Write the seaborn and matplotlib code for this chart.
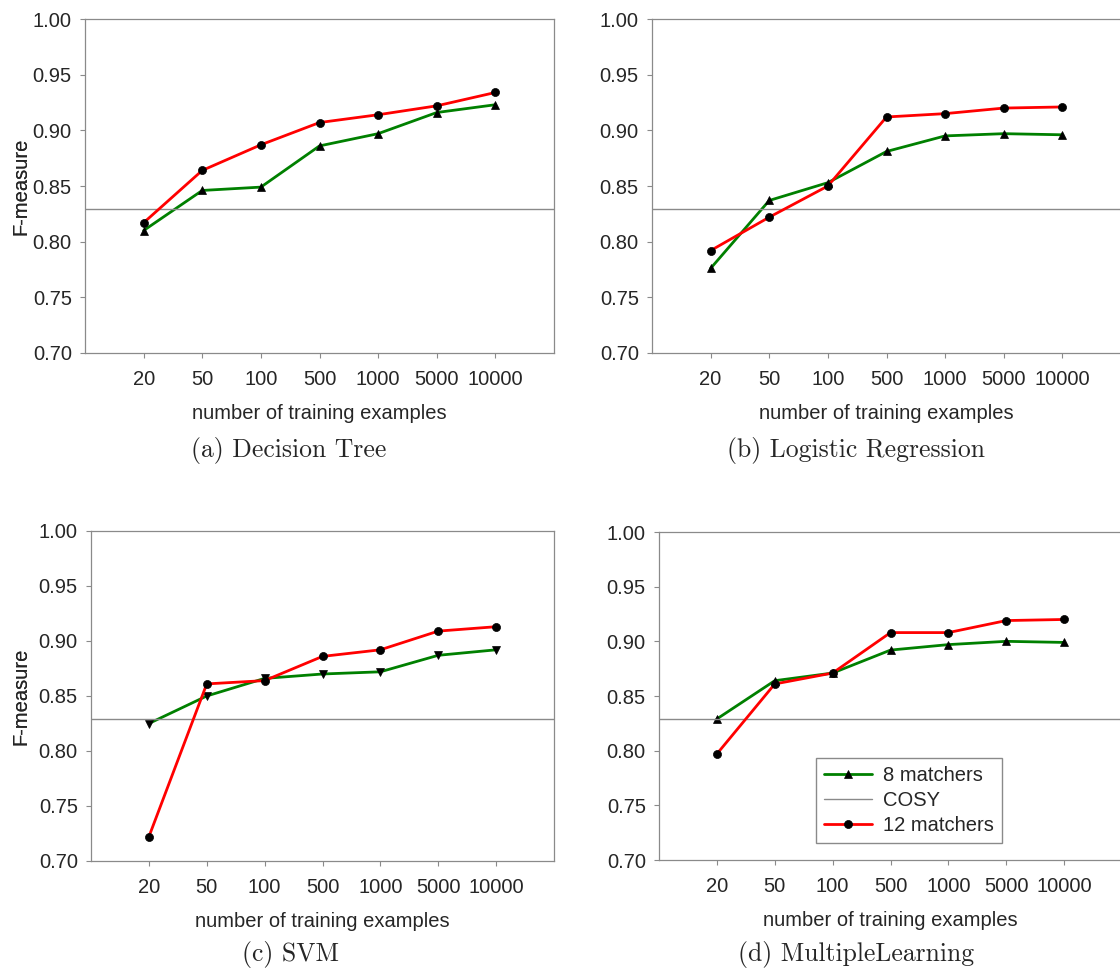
import matplotlib
matplotlib.use("Agg")
import matplotlib.pyplot as plt
from matplotlib.ticker import FormatStrFormatter
import seaborn as sns

# Training-set sizes (categorical x axis)
sizes = ["20", "50", "100", "500", "1000", "5000", "10000"]

# F-measure of the COSY baseline
cosy = 0.829

# F-measure per classifier, 8 vs 12 matchers
dt_8 = [0.810, 0.846, 0.849, 0.886, 0.897, 0.916, 0.923]
dt_12 = [0.817, 0.864, 0.887, 0.907, 0.914, 0.922, 0.934]

lr_8 = [0.776, 0.837, 0.853, 0.881, 0.895, 0.897, 0.896]
lr_12 = [0.792, 0.822, 0.850, 0.912, 0.915, 0.920, 0.921]

svm_8 = [0.825, 0.850, 0.866, 0.870, 0.872, 0.887, 0.892]
svm_12 = [0.722, 0.861, 0.864, 0.886, 0.892, 0.909, 0.913]

ml_8 = [0.829, 0.864, 0.871, 0.892, 0.897, 0.900, 0.899]
ml_12 = [0.797, 0.861, 0.871, 0.908, 0.908, 0.919, 0.920]

captions = ["(a) Decision Tree", "(b) Logistic Regression", "(c) SVM", "(d) MultipleLearning"]

sns.set_style("white")
plt.rcParams["font.family"] = ["Liberation Sans", "DejaVu Sans"]

W, H = 1120, 974
fig = plt.figure(figsize=(W / 100, H / 100), dpi=100)

GREEN = "#008000"
RED = "#ff0000"
GRAY = "#8a8a8a"
FS = 14.5

# axes boxes in pixels: left, right, top, bottom
boxes = [
    (85, 554, 19, 353),
    (652, 1121, 19, 353),
    (91, 554, 531, 861),
    (659, 1122, 532, 860),
]
caption_pos = [(289, 450), (856, 450), (290, 955), (856, 955)]
series = [(dt_8, dt_12, "^"), (lr_8, lr_12, "^"), (svm_8, svm_12, "v"), (ml_8, ml_12, "^")]

for i, ((l, r, t, b), (v8, v12, m8), cap, (cx, cy)) in enumerate(
        zip(boxes, series, captions, caption_pos)):
    ax = fig.add_axes([l / W, 1 - b / H, (r - l) / W, (b - t) / H])

    sns.lineplot(x=sizes, y=v8, ax=ax, color=GREEN, linewidth=2.0,
                 marker=m8, markersize=6, markerfacecolor="black",
                 markeredgecolor="black", markeredgewidth=0.5,
                 label="8 matchers", legend=False, sort=False)
    ax.axhline(cosy, color=GRAY, linewidth=1.0, label="COSY")
    sns.lineplot(x=sizes, y=v12, ax=ax, color=RED, linewidth=2.0,
                 marker="o", markersize=5.8, markerfacecolor="black",
                 markeredgecolor="black", markeredgewidth=0.5,
                 label="12 matchers", legend=False, sort=False)

    ax.set_xlim(-1, 7)
    ax.set_ylim(0.70, 1.00)
    ax.set_yticks([0.70, 0.75, 0.80, 0.85, 0.90, 0.95, 1.00])
    ax.yaxis.set_major_formatter(FormatStrFormatter("%.2f"))

    for sp in ax.spines.values():
        sp.set_visible(True)
        sp.set_color(GRAY)
        sp.set_linewidth(0.9)

    ax.tick_params(axis="x", direction="out", length=3.5, width=0.8,
                   color=GRAY, labelsize=FS, pad=9, bottom=True)
    ax.tick_params(axis="y", direction="out", length=3.5, width=0.8,
                   color=GRAY, labelsize=FS, pad=6, left=True)

    ax.set_xlabel("number of training examples", fontsize=FS)
    ax.set_ylabel("F-measure", fontsize=FS)
    ax.xaxis.set_label_coords(0.5, -51 / (b - t))
    ax.xaxis.label.set_va("top")
    ax.yaxis.set_label_coords((30 - l) / (r - l), 0.5)

    if i == 3:
        lx0 = (816 - l) / (r - l)
        ly0 = (b - 843) / (b - t)
        ax.legend(loc="lower left", bbox_to_anchor=(lx0, ly0), borderaxespad=0,
                  fontsize=FS, frameon=True, fancybox=False, edgecolor=GRAY,
                  framealpha=1, handlelength=2.4, handletextpad=0.55,
                  labelspacing=0.3, borderpad=0.4)

    fig.text(cx / W, 1 - cy / H, cap, ha="center", va="center",
             fontsize=18.5, family="cmr10")

fig.savefig("out.png", dpi=100)
